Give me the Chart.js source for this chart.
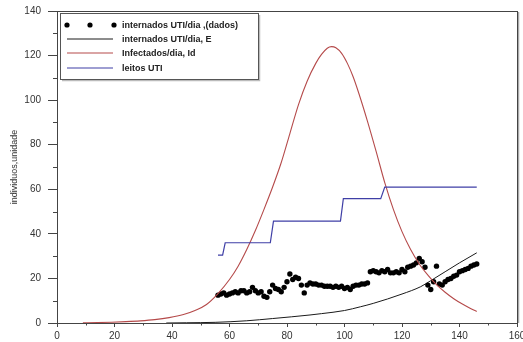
<!DOCTYPE html>
<html>
<head>
<meta charset="utf-8">
<script src="https://cdn.jsdelivr.net/npm/chart.js@4.4.1/dist/chart.umd.min.js"></script>
<style>
  html, body { margin: 0; padding: 0; background: #fff; }
  canvas { display: block; }
</style>
</head>
<body>
<canvas id="chart" width="523" height="342"></canvas>
<script>
// internados UTI/dia (dados), one value per day starting at day 56
const obsStartDay = 56;
const obsValues = [
  12.5, 13, 13.5, 12.5, 13, 13.5, 14, 13.5, 14.5, 14.5,
  13.5, 14, 16, 14.5, 13.5, 14, 12, 11.5, 14, 17,
  15.5, 15, 14, 16, 18.5, 22, 19.5, 20.5, 20, 17,
  13.5, 17, 18, 17.5, 17.5, 17, 17, 16.5, 16.5, 16.5,
  16, 16.5, 16, 16.5, 15.5, 16, 15, 16.5, 17, 17,
  17.5, 17.5, 18, 23, 23.5, 23, 22.5, 23.5, 23, 24,
  22.5, 22.5, 23, 22.5, 24, 23, 25, 25.5, 26, 27,
  29, 27.5, 25, 17, 15, 18.5, 25.5, 17.5, 17, 18.5,
  19.5, 20, 21, 21.5, 23, 23.5, 24, 24.5, 25.5, 26, 26.5
];

// internados UTI/dia, E (model)
const modelDays   = [38, 45, 55, 66, 75, 88, 92, 100, 105.6, 110, 120, 126.5, 130, 135, 140, 146];
const modelValues = [0, 0.1, 0.3, 1, 2, 3.6, 4.2, 5.6, 7.3, 8.8, 13, 16.3, 19, 23, 27, 31.5];

// Infectados/dia, Id
const infDays   = [9, 14, 19, 24, 29, 34, 39, 44, 48, 52, 56, 60, 63, 66, 69, 72, 75, 78, 81, 84, 87, 90, 92, 94, 95.5, 97, 99, 101, 103, 105, 108, 111, 114, 117, 120, 123, 126, 129, 132, 135, 138, 141, 144, 146];
const infValues = [0.1, 0.2, 0.35, 0.6, 0.95, 1.5, 2.4, 3.8, 5.6, 8.3, 13.2, 19.5, 25.5, 33, 41.5, 51, 61, 72, 85, 98, 108.5, 116.5, 120.5, 123.3, 124, 123.5, 121, 116.5, 110.5, 103, 90.5, 77, 63, 51, 41, 33, 26.5, 21.5, 17.2, 13.8, 10.9, 8.5, 6.4, 5.2];

// leitos UTI
const bedDays   = [56, 57.6, 58.5, 74.2, 75.3, 98.6, 99.6, 112.6, 114, 146];
const bedValues = [30.5, 30.5, 36, 36, 45.7, 45.7, 55.8, 55.8, 61, 61];

const xTicks = [0, 20, 40, 60, 80, 100, 120, 140, 160];
const yTicks = [0, 20, 40, 60, 80, 100, 120, 140];
const xMinor = [10, 30, 50, 70, 90, 110, 130, 150];
const yMinor = [10, 30, 50, 70, 90, 110, 130];

const toPoints = (xs, ys) => xs.map((x, i) => ({ x, y: ys[i] }));
const obsPoints = obsValues.map((y, i) => ({ x: obsStartDay + i, y }));

const FONT = '"Liberation Sans", Arial, sans-serif';
const AXIS = '#444';

const frameAndLegend = {
  id: 'frameAndLegend',
  afterDraw(chart) {
    const { ctx, chartArea: a, scales } = chart;
    ctx.save();

    // minor ticks
    ctx.strokeStyle = AXIS;
    ctx.lineWidth = 1;
    ctx.beginPath();
    xMinor.forEach((v) => {
      const px = Math.round(scales.x.getPixelForValue(v)) + 0.5;
      ctx.moveTo(px, a.bottom);
      ctx.lineTo(px, a.bottom + 2.5);
    });
    yMinor.forEach((v) => {
      const py = Math.round(scales.y.getPixelForValue(v)) + 0.5;
      ctx.moveTo(a.left, py);
      ctx.lineTo(a.left - 4, py);
    });
    ctx.stroke();

    // plot frame with soft shadow on the right
    ctx.strokeStyle = '#aaa';
    ctx.lineWidth = 1.5;
    ctx.beginPath();
    ctx.moveTo(a.right + 1.5, a.top + 1);
    ctx.lineTo(a.right + 1.5, a.bottom);
    ctx.stroke();
    ctx.strokeStyle = AXIS;
    ctx.lineWidth = 1;
    ctx.strokeRect(Math.round(a.left) + 0.5, Math.round(a.top) + 0.5,
      Math.round(a.right - a.left), Math.round(a.bottom - a.top));

    // legend box
    const bx = 60, by = 13, bw = 198, bh = 66;
    ctx.fillStyle = '#fff';
    ctx.fillRect(bx, by, bw, bh);
    ctx.strokeStyle = '#bbb';
    ctx.lineWidth = 1.5;
    ctx.beginPath();
    ctx.moveTo(bx + bw + 1.5, by + 2);
    ctx.lineTo(bx + bw + 1.5, by + bh + 1.5);
    ctx.lineTo(bx + 2, by + bh + 1.5);
    ctx.stroke();
    ctx.strokeStyle = '#555';
    ctx.lineWidth = 1;
    ctx.strokeRect(bx + 0.5, by + 0.5, bw, bh);

    const rows = [25, 39, 53, 68];
    ctx.font = 'bold 9px ' + FONT;
    ctx.textBaseline = 'middle';
    chart.data.datasets.forEach((ds, i) => {
      const y = rows[i];
      if (ds.showLine) {
        ctx.strokeStyle = ds.borderColor;
        ctx.lineWidth = ds.borderWidth;
        ctx.beginPath();
        ctx.moveTo(67, y);
        ctx.lineTo(113, y);
        ctx.stroke();
      } else {
        ctx.fillStyle = ds.backgroundColor;
        [67, 90, 114].forEach((x) => {
          ctx.beginPath();
          ctx.arc(x, y, 2.6, 0, Math.PI * 2);
          ctx.fill();
        });
      }
      ctx.fillStyle = '#222';
      ctx.fillText(ds.label, 122, y + 0.5);
    });

    ctx.restore();
  },
};

new Chart(document.getElementById('chart'), {
  type: 'scatter',
  data: {
    datasets: [
      {
        label: 'internados UTI/dia ,(dados)',
        data: obsPoints,
        showLine: false,
        pointRadius: 2.7,
        pointBackgroundColor: '#000',
        backgroundColor: '#000',
        pointBorderWidth: 0,
        order: 2,
      },
      {
        label: 'internados UTI/dia, E',
        data: toPoints(modelDays, modelValues),
        showLine: true,
        borderColor: '#1a1a1a',
        borderWidth: 1,
        pointRadius: 0,
        cubicInterpolationMode: 'monotone',
        order: 3,
      },
      {
        label: 'Infectados/dia, Id',
        data: toPoints(infDays, infValues),
        showLine: true,
        borderColor: '#b54a4a',
        borderWidth: 1.1,
        pointRadius: 0,
        cubicInterpolationMode: 'monotone',
        order: 1,
      },
      {
        label: 'leitos UTI',
        data: toPoints(bedDays, bedValues),
        showLine: true,
        borderColor: '#3f3fa6',
        borderWidth: 1.2,
        pointRadius: 0,
        tension: 0,
        order: 0,
      },
    ],
  },
  options: {
    responsive: false,
    animation: false,
    events: [],
    layout: { padding: { top: 11, right: 6, left: 0, bottom: 0 } },
    plugins: { legend: { display: false }, tooltip: { enabled: false } },
    scales: {
      x: {
        type: 'linear',
        min: 0,
        max: 160,
        afterBuildTicks: (s) => { s.ticks = xTicks.map((value) => ({ value })); },
        afterFit: (s) => { s.height = 19; s.paddingLeft = 0; s.paddingRight = 0; },
        ticks: { color: '#333', font: { family: FONT, size: 10 }, padding: 3, maxRotation: 0, autoSkip: false },
        grid: { drawOnChartArea: false, tickLength: 4, color: AXIS },
        border: { display: false },
      },
      y: {
        type: 'linear',
        min: 0,
        max: 140,
        afterBuildTicks: (s) => { s.ticks = yTicks.map((value) => ({ value })); },
        afterFit: (s) => { s.width = 57; s.paddingTop = 0; s.paddingBottom = 0; },
        ticks: { color: '#333', font: { family: FONT, size: 10 }, padding: 7, autoSkip: false },
        grid: { drawOnChartArea: false, tickLength: 9, color: AXIS },
        border: { display: false },
        title: {
          display: true,
          text: 'individuos,unidade',
          color: '#333',
          font: { family: FONT, size: 9 },
          padding: { top: 9, bottom: 0 },
        },
      },
    },
  },
  plugins: [frameAndLegend],
});
</script>
</body>
</html>
